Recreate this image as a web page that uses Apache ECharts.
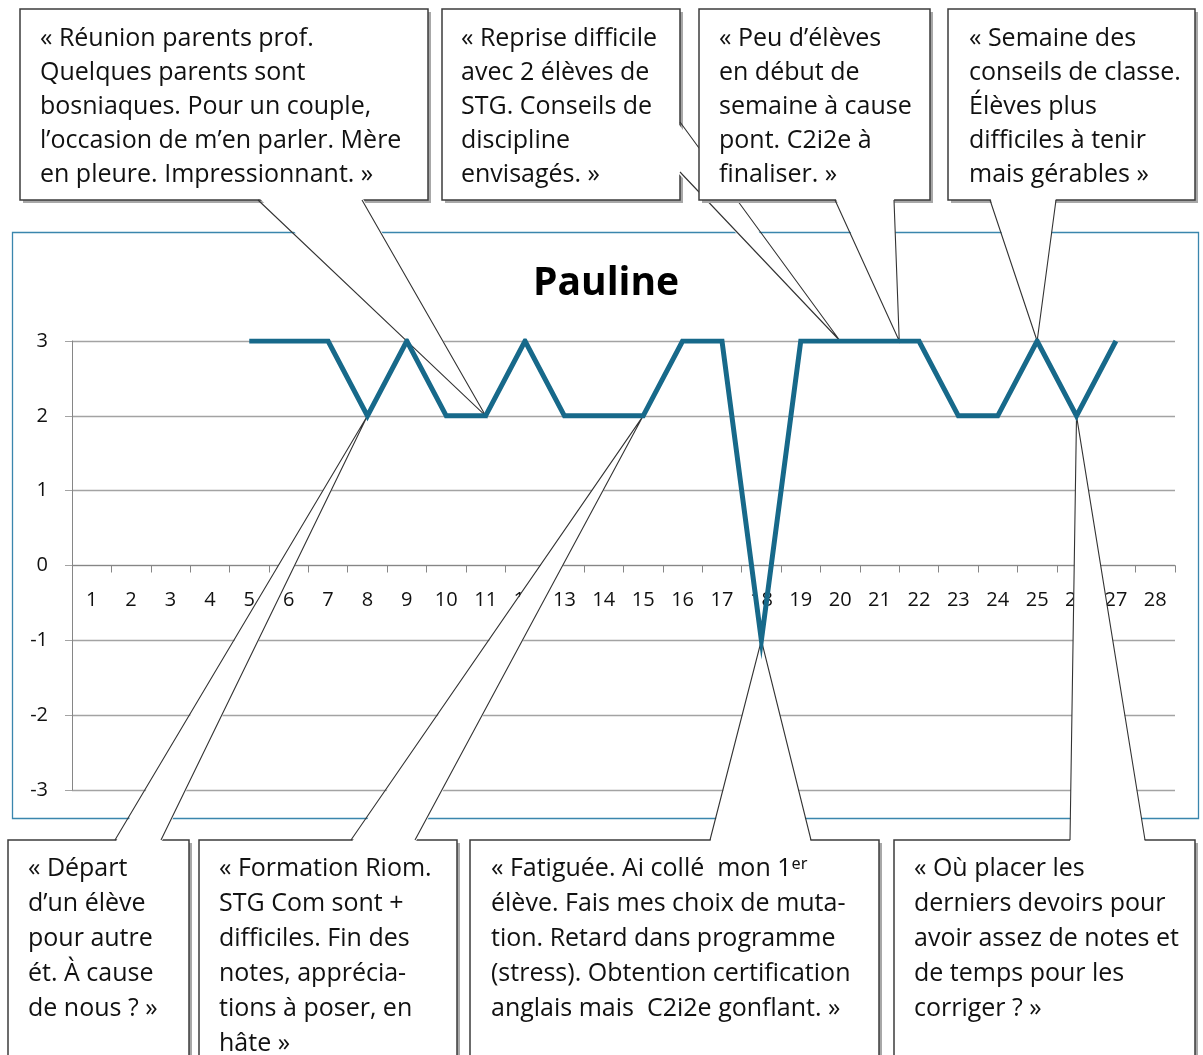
<!DOCTYPE html>
<html>
<head>
<meta charset="utf-8">
<title>Pauline</title>
<script src="https://cdn.jsdelivr.net/npm/echarts@6/dist/echarts.min.js"></script>
<style>
    html, body { margin: 0; padding: 0; background: #fff; }
    #chart { width: 1203px; height: 1055px; }
</style>
</head>
<body>
<div id="chart"></div>
<script>
//== 数据
var weeks = ['1', '2', '3', '4', '5', '6', '7', '8', '9', '10', '11', '12', '13', '14',
    '15', '16', '17', '18', '19', '20', '21', '22', '23', '24', '25', '26', '27', '28'];
var moodValues = [null, null, null, null, 3, 3, 3, 2, 3, 2, 2, 3, 2, 2,
    2, 3, 3, -1, 3, 3, 3, 3, 2, 2, 3, 2, 3, null];
var yMin = -3;
var yMax = 3;
var yStep = 1;

// callout texts, and the point(s) each one points at [week, value]
var noteTexts = [
    '« Réunion parents prof.\nQuelques parents sont\nbosniaques. Pour un couple,\nl’occasion de m’en parler. Mère\nen pleure. Impressionnant. »',
    '« Reprise difficile\navec 2 élèves de\nSTG. Conseils de\ndiscipline\nenvisagés. »',
    '« Peu d’élèves\nen début de\nsemaine à cause\npont. C2i2e à\nfinaliser. »',
    '« Semaine des\nconseils de classe.\nÉlèves plus\ndifficiles à tenir\nmais gérables »',
    '« Départ\nd’un élève\npour autre\nét. À cause\nde nous ? »',
    '« Formation Riom.\nSTG Com sont +\ndifficiles. Fin des\nnotes, apprécia-\ntions à poser, en\nhâte »',
    '« Fatiguée. Ai collé  mon 1ᵉʳ\nélève. Fais mes choix de muta-\ntion. Retard dans programme\n(stress). Obtention certification\nanglais mais  C2i2e gonflant. »',
    '« Où placer les\nderniers devoirs pour\navoir assez de notes et\nde temps pour les\ncorriger ? »'
];
var noteTargets = [
    [['11', 2]],
    [['20', 3]],
    [['21', 3], ['22', 3]],
    [['25', 3]],
    [['8', 2]],
    [['15', 2]],
    [['18', -1]],
    [['26', 2]]
];

//== 布局 (像素)
var noteLayout = [
    {box: [20, 9, 408, 191], text: [40, 22], lh: 34, base: [[258, 200], [362, 200]], side: 'bottom'},
    {box: [442, 9, 238, 191], text: [461, 22], lh: 34, base: [[680, 122], [680, 172]], side: 'right'},
    {box: [699, 9, 231, 191], text: [719, 22], lh: 34, base: [[835, 200], [894, 200]], side: 'bottom'},
    {box: [948, 9, 247, 191], text: [969, 22], lh: 34, base: [[990, 200], [1056, 200]], side: 'bottom'},
    {box: [8, 840, 181, 240], text: [28, 851], lh: 35, base: [[115, 840], [161, 840]], side: 'top'},
    {box: [199, 840, 258, 240], text: [219, 851], lh: 35, base: [[351, 840], [415, 840]], side: 'top'},
    {box: [470, 840, 409, 240], text: [491, 851], lh: 35, base: [[710, 840], [811, 840]], side: 'top'},
    {box: [894, 840, 301, 240], text: [914, 851], lh: 35, base: [[1070, 840], [1145, 840]], side: 'top'}
];

var mMoodChart = function () {
    var FONT = '"Open Sans", "Noto Sans", sans-serif';
    var LINE_COLOR = '#17698a';
    var GRID_COLOR = '#a3a3a3';
    var GRID = {left: 72, right: 28, top: 341, bottom: 265};

    var baseOption = function () {
        // x axis sits on value 0: shift it up from the grid bottom
        var plotH = 1055 - GRID.top - GRID.bottom;
        var zeroShift = plotH * (0 - yMin) / (yMax - yMin);
        return {
            animation: false,
            backgroundColor: '#fff',
            title: {
                text: 'Pauline',
                left: 528,
                top: 259,
                textStyle: {fontFamily: FONT, fontSize: 39, fontWeight: 'bold', color: '#000'}
            },
            grid: GRID,
            xAxis: {
                type: 'category',
                data: weeks,
                boundaryGap: true,
                offset: -zeroShift,
                axisLine: {onZero: false, lineStyle: {color: '#868686', width: 1}},
                axisTick: {show: true, length: 7, lineStyle: {color: '#868686'}},
                axisLabel: {margin: 25, fontFamily: FONT, fontSize: 20, color: '#111'},
                splitLine: {show: false}
            },
            yAxis: {
                type: 'value',
                min: yMin,
                max: yMax,
                interval: yStep,
                axisLine: {show: true, lineStyle: {color: '#868686', width: 1}},
                axisTick: {show: true, length: 7, lineStyle: {color: GRID_COLOR}},
                axisLabel: {margin: 24, fontFamily: FONT, fontSize: 20, color: '#111'},
                splitLine: {lineStyle: {color: GRID_COLOR, width: 1.3}}
            },
            series: [{
                type: 'line',
                data: moodValues,
                z: 100,
                symbol: 'none',
                connectNulls: false,
                lineStyle: {color: LINE_COLOR, width: 5, join: 'miter'}
            }]
        };
    };

    /**
     * 构建注释框
     *
     * @param chart echarts 实例
     */
    var buildNotes = function (chart) {
        var els = [];
        var z = 3;
        // chart area frame
        els.push({
            type: 'rect', z: z++, silent: true,
            shape: {x: 12.5, y: 232.5, width: 1186, height: 586},
            style: {fill: null, stroke: '#3a86ad', lineWidth: 1.3}
        });
        noteTexts.forEach(function (txt, i) {
            var lay = noteLayout[i];
            var pts = noteTargets[i].map(function (t) {
                return chart.convertToPixel({gridIndex: 0}, [t[0], t[1]]);
            });
            var tip = [0, 0];
            pts.forEach(function (p) { tip[0] += p[0] / pts.length; tip[1] += p[1] / pts.length; });
            var b = lay.box;
            // shadow + box
            els.push({
                type: 'rect', z: z++, silent: true,
                shape: {x: b[0] + 3, y: b[1] + 3, width: b[2], height: b[3]},
                style: {fill: '#a8a8a8'}
            });
            els.push({
                type: 'rect', z: z++, silent: true,
                shape: {x: b[0], y: b[1], width: b[2], height: b[3]},
                style: {fill: '#fff', stroke: '#3c3c3c', lineWidth: 1.5}
            });
            // wedge
            var b1 = lay.base[0], b2 = lay.base[1];
            var d = {bottom: [0, -3], top: [0, 3], right: [-3, 0]}[lay.side];
            els.push({
                type: 'polygon', z: z++, silent: true,
                shape: {points: [[b1[0] + d[0], b1[1] + d[1]], tip, [b2[0] + d[0], b2[1] + d[1]]]},
                style: {fill: '#fff'}
            });
            els.push({
                type: 'polyline', z: z++, silent: true,
                shape: {points: [b1, tip, b2]},
                style: {stroke: '#333', lineWidth: 1.1, fill: null}
            });
            els.push({
                type: 'text', z: z++, silent: true,
                x: lay.text[0], y: lay.text[1],
                style: {
                    text: txt, fill: '#111', font: '25px ' + FONT,
                    lineHeight: lay.lh, verticalAlign: 'top', align: 'left'
                }
            });
        });
        return els;
    };

    return {
        //== 初始化页面
        init: function () {
            var chart = echarts.init(document.getElementById('chart'), null, {renderer: 'canvas'});
            chart.setOption(baseOption());
            chart.setOption({graphic: {elements: buildNotes(chart)}});
        }
    };
}();

//== 初始化
mMoodChart.init();
</script>
</body>
</html>
